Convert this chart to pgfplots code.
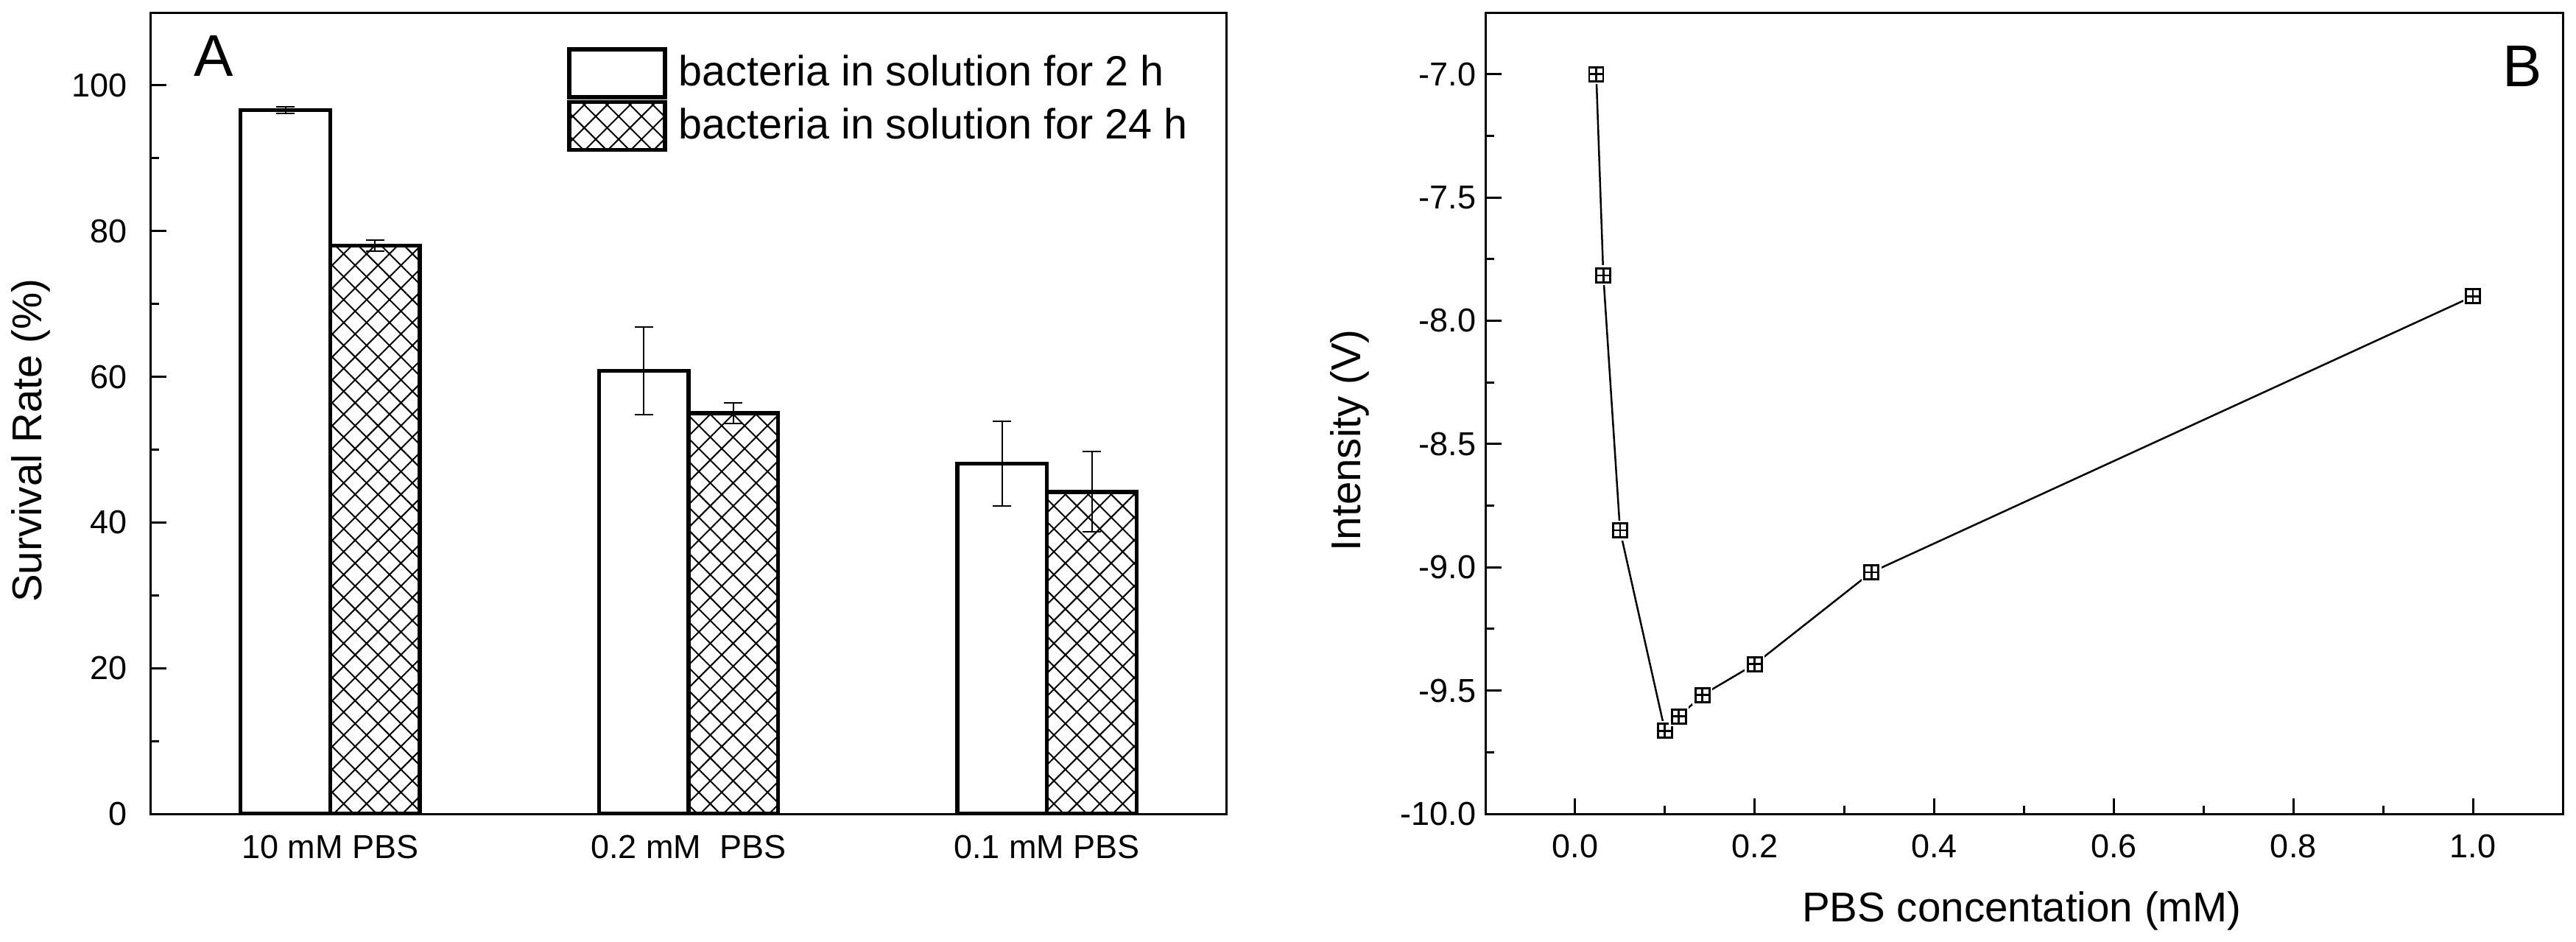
\documentclass[border=0pt]{standalone}
\usepackage{fontspec}
\setmainfont{Liberation Sans}
\usepackage{pgfplots}
\pgfplotsset{compat=1.18}
\usetikzlibrary{patterns.meta}

\pgfdeclareplotmark{boxplus}{%
  \pgfscope
  \pgfsetfillcolor{white}%
  \pgfpathrectanglecorners{\pgfpoint{-\pgfplotmarksize-0.8pt}{-\pgfplotmarksize-0.8pt}}{\pgfpoint{\pgfplotmarksize+0.8pt}{\pgfplotmarksize+0.8pt}}%
  \pgfusepath{fill}%
  \endpgfscope
  \pgfpathrectanglecorners{\pgfpoint{-\pgfplotmarksize}{-\pgfplotmarksize}}{\pgfpoint{\pgfplotmarksize}{\pgfplotmarksize}}%
  \pgfpathmoveto{\pgfpoint{-\pgfplotmarksize}{0pt}}\pgfpathlineto{\pgfpoint{\pgfplotmarksize}{0pt}}%
  \pgfpathmoveto{\pgfpoint{0pt}{-\pgfplotmarksize}}\pgfpathlineto{\pgfpoint{0pt}{\pgfplotmarksize}}%
  \pgfusepathqstroke
}

\pgfplotsset{
  common/.style={
    scale only axis,
    anchor=south west,
    tick align=inside,
    tick pos=left,
    major tick length=4.3pt,
    minor tick length=2.3pt,
    axis line style={line width=0.6pt},
    every tick/.style={line width=0.6pt, black},
    /pgf/number format/assume math mode=true,
    tick label style={font=\fontsize{9}{10}\selectfont},
    label style={font=\fontsize{11.3}{13}\selectfont},
  }
}

\begin{document}
\begin{tikzpicture}
\path[use as bounding box] (0,0) rectangle (699.6pt,255.6pt);

% ---------- Panel A ----------
\begin{axis}[
  common,
  at={(41pt,34.6pt)},
  width=292pt, height=217.6pt,
  xmin=-0.5, xmax=2.5, ymin=0, ymax=110,
  xtick={0,1,2},
  xticklabels={10 mM PBS, 0.2 mM~~PBS, 0.1 mM PBS},
  x tick style={draw=none},
  xticklabel style={yshift=-2.3pt},
  ytick={0,20,40,60,80,100},
  minor y tick num=1,
  yticklabel style={xshift=-3pt},
  ylabel={Survival Rate (\%)},
  ylabel style={at={(axis description cs:-0.1116,0.466)}, anchor=center},
  legend cell align=left,
  legend style={at={(axis cs:0.6616,105.2)}, anchor=north west, draw=none, fill=none,
    inner sep=0pt, outer sep=0pt, row sep=0.2pt, column sep=3.2pt,
    nodes={inner sep=0pt},
    font=\fontsize{11.5}{13}\selectfont},
  legend image code/.code={\draw[#1] (0pt,-6.5pt) rectangle (26pt,6.5pt);},
]
\addplot[ybar, bar width=0.25, bar shift=0, draw=black, line width=1.1pt, fill=white,
  error bars/.cd, y dir=both, y explicit,
  error bar style={line width=0.4pt},
  error mark options={rotate=90, mark size=2.5pt, line width=0.4pt}]
  coordinates {(-0.125,96.6) +- (0,0.5) (0.875,60.8) +- (0,6.0) (1.875,48.1) +- (0,5.8)};
\addlegendentry{bacteria in solution for 2 h}
\addplot[ybar, bar width=0.25, bar shift=0, draw=black, line width=1.1pt, fill=white,
  pattern={Hatch[angle=45, distance=4.4pt, line width=0.4pt]},
  error bars/.cd, y dir=both, y explicit,
  error bar style={line width=0.4pt},
  error mark options={rotate=90, mark size=2.5pt, line width=0.4pt}]
  coordinates {(0.125,78.0) +- (0,0.8) (1.125,55.0) +- (0,1.4) (2.125,44.2) +- (0,5.5)};
\addlegendentry{bacteria in solution for 24 h}
\node[font=\fontsize{16}{18}\selectfont, inner sep=0pt] at (axis cs:-0.325,104) {A};
\end{axis}

% ---------- Panel B ----------
\begin{axis}[
  common,
  at={(403.4pt,34.6pt)},
  width=292.6pt, height=217.6pt,
  xmin=-0.1, xmax=1.1, ymin=-10, ymax=-6.75,
  xtick={0,0.2,0.4,0.6,0.8,1},
  ytick={-10,-9.5,-9,-8.5,-8,-7.5,-7},
  minor tick num=1,
  xticklabel style={yshift=-2pt, /pgf/number format/.cd, fixed, fixed zerofill, precision=1},
  yticklabel style={xshift=1pt, /pgf/number format/.cd, fixed, fixed zerofill, precision=1},
  xlabel={PBS concentation (mM)},
  xlabel style={at={(axis description cs:0.498,-0.121)}, anchor=center},
  ylabel={Intensity (V)},
  ylabel style={at={(axis description cs:-0.126,0.466)}, anchor=center},
]
\addplot[black, line width=0.5pt, mark=boxplus, mark size=1.9pt,
  mark options={line width=0.55pt, solid}]
  coordinates {
    (0.0235,-7.00)
    (0.0314,-7.816)
    (0.05,-8.85)
    (0.10,-9.663)
    (0.1156,-9.605)
    (0.1418,-9.518)
    (0.20,-9.393)
    (0.33,-9.02)
    (1.00,-7.901)
  };
\node[font=\fontsize{16}{18}\selectfont, inner sep=0pt] at (axis cs:1.055,-6.968) {B};
\end{axis}
\end{tikzpicture}
\end{document}
